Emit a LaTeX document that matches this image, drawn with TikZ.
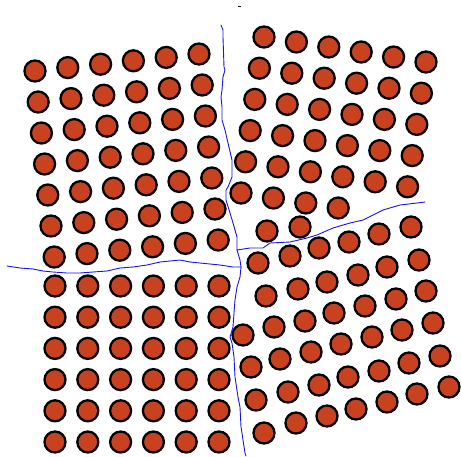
\documentclass[tikz,border=0pt]{standalone}
\usetikzlibrary{calc}
\definecolor{atomfill}{RGB}{201,66,32}
\definecolor{gbblue}{RGB}{20,20,235}
\tikzset{
  atom/.style={draw=black, line width=2.3pt, fill=atomfill},
  gb/.style={draw=gbblue, line width=0.9pt, line join=round, line cap=round}
}
\begin{document}
\begin{tikzpicture}[x=1pt,y=-1pt]
\useasboundingbox (0,0) rectangle (461,456);
% top-left grain: 7 rows x 6 columns
\foreach \r in {0,...,6}{
  \foreach \c in {0,...,5}{
    \draw[atom] ({35+32.8*\c+3.2*\r},{71-3.4*\c+31.0*\r}) circle (10.5pt);
  }
}
% bottom-left grain: 6 x 6
\foreach \r in {0,...,5}{
  \foreach \c in {0,...,5}{
    \draw[atom] ({55+32.8*\c},{286+31.2*\r}) circle (10.5pt);
  }
}
% top-right grain: rows 1-5 with 6 columns
\foreach \r in {0,...,4}{
  \foreach \c in {0,...,5}{
    \draw[atom] ({264+32.4*\c-4.6*\r},{37+5.0*\c+31.2*\r}) circle (10.5pt);
  }
}
\foreach \c in {0,...,3}{
  \draw[atom] ({264+32.4*\c-4.6*5},{37+5.0*\c+31.2*5}) circle (10.5pt);
}
\foreach \p in {(267,231),(300,227)}{
  \draw[atom] \p circle (10.5pt);
}
% bottom-right grain
\foreach \p in {
  (264,433),(296,423),(327,416),(356,409),(387,402),(417,394),(449,387),
  (256,400),(288,392),(319,385),(348,377),(379,371),(409,363),(440,356),
  (251,367),(280,359),(311,352),(341,344),(372,337),(402,330),(433,323),
  (243,335),(274,327),(305,321),(334,313),(365,306),(396,299),(426,291),
  (266,296),(298,289),(327,282),(358,275),(387,267),(419,260),
  (258,263),(290,256),(319,248),(349,242),(379,234),(411,227)}{
  \draw[atom] \p circle (10.5pt);
}
% grain boundaries
\coordinate (J1) at (237,250);
\coordinate (J2) at (241,267);
\draw[gb] (221,25) -- (223,30) -- (223,37) -- (224,67) -- (225,70) -- (223,77)
  -- (222,90) -- (221,97) -- (222,107) -- (222,120) -- (225,130) -- (228,143)
  -- (232,160) -- (232,177) -- (228,187) -- (226,190) -- (226,200) -- (230,213)
  -- (233,223) -- (235,230) -- (237,237) -- (J1);
\draw[gb] (J1) -- (240,260) -- (J2);
\draw[gb] (J2) -- (240,277) -- (237,287) -- (235,300) -- (234,313) -- (233,327)
  -- (230,337) -- (232,343) -- (234,357) -- (235,377) -- (238,397) -- (240,407)
  -- (241,427) -- (242,433) -- (243,440) -- (245,453) -- (246,456);
\draw[gb] (7,266) -- (20,268) -- (33,269) -- (43,271) -- (53,272) -- (67,273)
  -- (80,273) -- (93,272) -- (107,271) -- (120,268) -- (133,267) -- (147,265)
  -- (160,262) -- (180,260) -- (190,262) -- (200,263) -- (220,265) -- (233,267)
  -- (J2);
\draw[gb] (J1) -- (250,248) -- (263,248) -- (270,243) -- (290,242) -- (307,238)
  -- (317,235) -- (333,228) -- (350,223) -- (363,220) -- (383,210) -- (400,205)
  -- (417,203) -- (425,202);
% small mark at top
\draw[black, line width=0.8pt] (238,6) -- (241,6);
\end{tikzpicture}
\end{document}
